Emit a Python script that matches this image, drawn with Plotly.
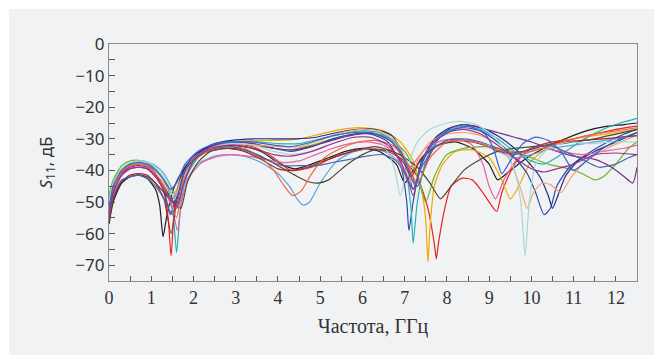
import plotly.graph_objects as go

# Curves: frequency (GHz) and S11 (dB)
c1_x = [0,0.1,0.3,0.5,0.7,0.9,1.1,1.2,1.28,1.36,1.5,1.7,2.0,2.4,2.8,3.2,3.6,4.0,4.4,4.8,5.2,5.6,6.0,6.4,6.8,7.0,7.2,7.5,7.8,8.2,8.6,9.0,9.2,9.5,9.9,10.3,10.8,11.3,11.8,12.2,12.5]
c1_y = [-57,-50,-44,-42,-41.5,-42.5,-46,-51,-61,-55,-47,-41,-36,-33,-32,-32.5,-34,-37.5,-39.5,-38,-36,-34,-33,-34,-38,-44,-40,-35,-32,-31,-33,-38,-43,-40,-36,-33,-30,-27.5,-26,-25.5,-25]

c2_x = [0,0.1,0.3,0.5,0.7,0.9,1.1,1.3,1.4,1.47,1.55,1.7,2.0,2.4,2.9,3.4,3.9,4.3,4.8,5.3,5.8,6.2,6.6,7.0,7.3,7.55,7.7,7.75,7.8,7.95,8.1,8.35,8.6,8.85,9.05,9.18,9.3,9.6,10.0,10.5,11.0,11.5,12.0,12.5]
c2_y = [-55,-47,-41,-38.5,-38,-38.5,-41,-47,-55,-67,-52,-43,-36,-32.5,-31.5,-32.5,-36,-40,-39,-36,-34,-33,-34,-37,-42,-52,-63,-68,-63,-52,-45,-42.5,-43,-47,-51,-53,-47,-38,-33,-31,-30,-28.5,-27,-26]

c3_x = [0,0.1,0.3,0.5,0.7,0.9,1.1,1.3,1.55,1.7,2.0,2.5,3.0,3.5,4.0,4.5,5.0,5.5,6.0,6.5,6.9,7.2,7.4,7.5,7.55,7.6,7.7,7.9,8.2,8.6,9.0,9.3,9.5,9.7,10.0,10.5,11.0,11.5,12.0,12.5]
c3_y = [-50,-44,-39.5,-38,-37.5,-38,-40,-43,-47,-43,-36,-32,-31,-30.5,-30.5,-30,-28.5,-27,-26.5,-27.5,-31,-37,-46,-56,-69,-58,-45,-38,-34,-33.5,-36,-43,-49,-45,-37,-32,-30,-29,-28,-27]

c4_x = [0,0.1,0.3,0.5,0.7,0.9,1.1,1.3,1.5,1.65,1.8,2.1,2.5,2.9,3.4,3.9,4.3,4.8,5.3,5.8,6.2,6.6,7.0,7.3,7.5,7.7,8.0,8.4,8.9,9.4,9.9,10.4,10.9,11.2,11.5,11.7,12.0,12.3,12.5]
c4_y = [-48,-43,-38.5,-37,-36.8,-37.5,-39.5,-43,-48,-50,-42,-36,-32.5,-31.5,-32,-33,-33.5,-32,-30,-28.5,-28,-29.5,-34,-42,-50,-42,-35,-33,-32.5,-33.5,-35.5,-38,-39.5,-41,-43,-42,-38,-33,-31]

c5_x = [0,0.1,0.3,0.5,0.7,0.9,1.1,1.3,1.45,1.55,1.7,2.0,2.5,2.9,3.4,3.9,4.3,4.8,5.3,5.8,6.2,6.6,6.9,7.05,7.1,7.2,7.4,7.7,8.0,8.4,8.8,9.2,9.6,9.9,10.1,10.3,10.45,10.6,10.9,11.3,11.8,12.2,12.5]
c5_y = [-52,-46,-40.5,-38.5,-38,-38.5,-41,-46,-54,-50,-42,-35.5,-32,-31,-31.5,-33,-34,-32.5,-30,-28.5,-28.5,-31,-38,-50,-59,-50,-37,-30.5,-27.5,-26.5,-27.5,-31,-36,-41,-47,-54,-52,-45,-39,-35,-31,-28.5,-27]

c6_x = [0,0.1,0.3,0.5,0.7,0.9,1.1,1.3,1.5,1.6,1.8,2.1,2.5,2.9,3.4,3.9,4.4,4.9,5.4,5.9,6.3,6.7,7.0,7.2,7.4,7.7,8.0,8.4,8.8,9.2,9.6,9.9,10.2,10.4,10.5,10.6,10.8,11.1,11.5,12.0,12.5]
c6_y = [-54,-47,-41.5,-39.5,-39,-39.5,-42,-46,-49,-47,-39,-34.5,-31.5,-30.5,-30,-30,-30,-29.5,-28,-27,-27,-29,-36,-46,-38,-30,-27,-25.5,-26.5,-29,-33,-37,-42,-48,-52,-49,-42,-37,-34,-31,-28]

c7_x = [0,0.1,0.3,0.5,0.7,0.9,1.1,1.3,1.55,1.7,2.0,2.5,2.9,3.4,3.9,4.4,4.9,5.4,5.9,6.3,6.7,7.0,7.3,7.5,7.8,8.1,8.4,8.8,9.2,9.6,10.0,10.5,11.0,11.5,11.9,12.2,12.4,12.5]
c7_y = [-53,-46,-41,-39,-38.5,-39,-41.5,-45,-50,-44,-36,-32,-31,-31.5,-33,-33.5,-32,-30,-28.5,-28.5,-31,-37,-45,-38,-30,-26.5,-25.5,-26.5,-28,-29.5,-31,-33.5,-35.5,-36.5,-39,-42,-44,-39]

c8_x = [0,0.1,0.3,0.5,0.75,1.0,1.2,1.4,1.52,1.6,1.68,1.8,2.1,2.5,3.0,3.5,4.0,4.5,5.0,5.5,6.0,6.4,6.8,7.0,7.15,7.2,7.3,7.5,7.8,8.1,8.4,8.8,9.2,9.6,10.0,10.3,10.7,11.2,11.7,12.1,12.5]
c8_y = [-50,-44,-39.5,-38,-37.5,-38.5,-41,-46,-54,-66,-54,-43,-36,-32.5,-31,-31,-31.5,-31.5,-30,-28.5,-27.5,-28,-31.5,-38,-52,-63,-50,-37,-29.5,-27,-26,-27,-30,-34,-37,-38,-35,-30.5,-27,-25,-23.5]

c9_x = [0,0.1,0.3,0.5,0.8,1.1,1.3,1.5,1.65,1.8,2.1,2.5,2.8,3.2,3.6,4.0,4.3,4.45,4.6,4.75,5.0,5.4,5.8,6.2,6.6,6.9,7.1,7.3,7.6,8.0,8.4,8.8,9.2,9.6,10.0,10.5,11.0,11.5,12.0,12.5]
c9_y = [-52,-46,-40.5,-38,-37,-38.5,-41,-46,-51,-44,-38,-35.5,-35,-35.5,-37.5,-41,-45.5,-49,-51,-50,-44,-37,-34,-33,-34.5,-38,-44,-38,-33,-31,-30.5,-31.5,-34,-36,-35,-33,-32,-31,-30,-29]

c10_x = [0,0.1,0.3,0.5,0.7,0.9,1.1,1.3,1.5,1.62,1.72,1.9,2.2,2.6,2.9,3.3,3.7,4.1,4.5,4.9,5.3,5.7,6.1,6.5,6.8,7.0,7.2,7.5,7.9,8.3,8.6,8.85,9.0,9.15,9.35,9.7,10.2,10.7,11.2,11.7,12.2,12.5]
c10_y = [-54,-47,-41.5,-39.5,-39,-39.5,-42,-46,-52,-59,-50,-42,-37.5,-35.5,-35,-35.5,-36.5,-37.5,-37,-35,-33,-31.5,-31,-32,-35,-41,-38,-33,-30.5,-30,-32,-38,-45,-49,-43,-36,-33,-34,-35,-34,-33,-32]

c11_x = [0,0.1,0.3,0.5,0.7,0.9,1.1,1.3,1.5,1.7,1.85,2.1,2.4,2.8,3.2,3.6,4.0,4.4,4.7,4.95,5.2,5.6,6.0,6.3,6.7,7.0,7.3,7.6,7.85,8.1,8.4,8.8,9.2,9.6,10.0,10.5,11.0,11.5,12.0,12.5]
c11_y = [-56,-49,-43.5,-42,-41.5,-42,-44,-47,-50,-52,-44,-37.5,-34,-33,-33.5,-35.5,-38.5,-41.5,-43.5,-44,-43,-38.5,-35,-33.5,-34,-36,-39,-44,-49,-45,-40,-36.5,-34,-33,-32.5,-32,-31,-30,-28.5,-27]

c12_x = [0,0.1,0.3,0.5,0.7,0.9,1.1,1.3,1.55,1.7,2.0,2.5,3.0,3.5,4.0,4.5,5.0,5.5,6.0,6.4,6.8,7.0,7.15,7.3,7.6,8.0,8.4,8.8,9.2,9.5,9.75,9.9,10.05,10.25,10.45,10.7,10.95,11.3,11.8,12.2,12.5]
c12_y = [-51,-45,-40,-38.5,-38,-38.5,-41,-44,-48,-43,-36,-32.5,-31.5,-32,-32.5,-32.5,-30.5,-28,-27,-27.5,-31,-36,-44,-37,-31,-28.5,-28,-29,-32,-37,-46,-52,-47,-44,-44.5,-47,-42,-37,-33,-30.5,-29]

c13_x = [0,0.1,0.3,0.5,0.75,1.0,1.2,1.4,1.55,1.7,2.0,2.4,2.9,3.4,3.9,4.3,4.8,5.3,5.8,6.2,6.5,6.75,6.9,7.05,7.3,7.6,8.0,8.3,8.7,9.1,9.4,9.6,9.75,9.85,9.95,10.1,10.4,10.9,11.4,11.9,12.5]
c13_y = [-50,-44,-39.5,-37.5,-37,-38,-40.5,-44,-49,-44,-37,-33,-31.5,-32,-34,-35,-34,-31.5,-29.5,-29.5,-32,-39,-48,-40,-31,-27,-25,-24.5,-25.5,-29,-34,-40,-50,-67,-50,-38,-33,-31,-31.5,-31,-31]

c14_x = [0,0.1,0.3,0.5,0.7,0.9,1.1,1.3,1.47,1.6,1.8,2.1,2.5,2.8,3.2,3.6,4.0,4.3,4.7,5.1,5.5,5.9,6.3,6.7,7.0,7.15,7.4,7.8,8.2,8.6,9.0,9.4,9.8,10.2,10.7,11.2,11.7,12.1,12.5]
c14_y = [-56,-49,-43.5,-41.5,-41,-41.5,-44,-49,-60,-50,-40,-35.5,-33.5,-33,-34,-36.5,-39.5,-40,-39,-37,-35,-33.5,-32.5,-34,-38,-42,-36,-32,-30.5,-31,-32.5,-34.5,-34,-32.5,-31,-30.5,-30,-29.5,-29]

c15_x = [0,0.1,0.3,0.5,0.7,0.9,1.1,1.3,1.5,1.6,1.75,2.0,2.4,2.8,3.2,3.6,3.9,4.15,4.35,4.55,4.8,5.1,5.5,5.9,6.3,6.7,7.0,7.3,7.6,8.0,8.4,8.8,9.2,9.6,10.0,10.5,11.0,11.5,12.0,12.5]
c15_y = [-53,-46,-40.5,-38.5,-38,-38.5,-41,-45,-52,-55,-44,-37,-33.5,-32.5,-33,-36,-40,-45,-48,-46.5,-41,-36,-33,-31,-30.5,-32,-36,-44,-36,-31,-30.5,-31.5,-33.5,-34.5,-34,-32,-30,-28.5,-27.5,-26.5]

c16_x = [0,0.1,0.3,0.5,0.7,0.9,1.1,1.3,1.5,1.62,1.8,2.1,2.5,2.9,3.3,3.7,4.1,4.5,4.9,5.3,5.7,6.1,6.5,6.8,7.0,7.2,7.4,7.7,8.0,8.4,8.8,9.2,9.6,10.0,10.4,10.8,11.2,11.6,12.0,12.3,12.5]
c16_y = [-55,-48,-43,-42,-41.5,-42.5,-45,-49,-54,-50,-40,-35,-33,-32.5,-34,-36.5,-38.5,-38.5,-38.5,-37.5,-36.5,-35.5,-35,-37,-41,-46,-39,-33,-30.5,-30,-31,-33,-35,-33,-32,-34,-36.5,-39,-38,-36,-35]

c17_x = [0,0.1,0.3,0.5,0.7,0.9,1.1,1.3,1.5,1.6,1.75,2.0,2.4,2.9,3.4,3.9,4.3,4.8,5.3,5.8,6.2,6.6,6.9,7.1,7.2,7.35,7.6,8.0,8.4,8.8,9.2,9.6,10.0,10.3,10.6,11.0,11.5,12.0,12.5]
c17_y = [-54,-47,-41.5,-39.5,-39,-39.5,-42,-46,-50,-52,-45,-37,-33,-32,-33,-35,-35.5,-34,-31.5,-29.5,-29.5,-32,-37,-44,-48,-40,-32,-28,-27,-28.5,-32,-36,-39.5,-40.5,-39.5,-38,-35,-34.5,-35]

c18_x = [0,0.1,0.3,0.5,0.7,0.9,1.1,1.3,1.45,1.6,1.8,2.1,2.5,2.9,3.4,3.9,4.3,4.8,5.3,5.8,6.2,6.6,6.9,7.1,7.25,7.4,7.7,8.1,8.5,8.9,9.1,9.3,9.5,9.8,10.1,10.4,10.7,11.0,11.3,11.7,12.1,12.5]
c18_y = [-52,-45,-40,-38,-37.5,-38,-40,-43,-46,-44,-38,-34,-31.5,-31,-31,-32,-32.5,-31,-29,-28,-28,-30,-34,-40,-45,-38,-31,-27.5,-26,-28.5,-33,-41,-37,-31.5,-29.5,-30.5,-34,-40,-37,-33,-30,-28]

curves = [
    (c1_x, c1_y, "#1e1e1e"),
    (c2_x, c2_y, "#e3261c"),
    (c3_x, c3_y, "#f2a900"),
    (c4_x, c4_y, "#6cb42c"),
    (c5_x, c5_y, "#2c48a8"),
    (c6_x, c6_y, "#1f2a85"),
    (c7_x, c7_y, "#7a2a8c"),
    (c8_x, c8_y, "#27b0b8"),
    (c9_x, c9_y, "#5ba2e2"),
    (c10_x, c10_y, "#e8619c"),
    (c11_x, c11_y, "#4c4c2c"),
    (c12_x, c12_y, "#f4a46c"),
    (c13_x, c13_y, "#a6d8d4"),
    (c14_x, c14_y, "#a3262a"),
    (c15_x, c15_y, "#f0663a"),
    (c16_x, c16_y, "#4a68a8"),
    (c17_x, c17_y, "#a0308c"),
    (c18_x, c18_y, "#3a66cc"),
]

x_ticks = list(range(0, 13))
y_ticks = list(range(-70, 1, 10))

fig = go.Figure()
for xs, ys, col in curves:
    fig.add_trace(go.Scatter(x=xs, y=ys, mode="lines",
                             line=dict(color=col, width=1.2, shape="spline", smoothing=0.6),
                             hoverinfo="skip", showlegend=False))

L, R, T, B = 109, 17, 44, 75
W, H = 654, 356
pw, ph = W - L - R, H - T - B
fig.add_shape(type="rect", xref="paper", yref="paper",
              x0=(9 - L) / pw, x1=(W - L) / pw,
              y0=(H - B - 355) / ph, y1=(H - B - 9) / ph,
              fillcolor="#f1f2f4", line=dict(width=0), layer="below")

fig.update_layout(
    width=W, height=H,
    margin=dict(l=L, r=R, t=T, b=B),
    paper_bgcolor="white",
    plot_bgcolor="rgba(0,0,0,0)",
    showlegend=False,
)
fig.update_xaxes(
    range=[0, 12.5], tickvals=x_ticks, ticks="inside", ticklen=5, tickcolor="#555",
    minor=dict(dtick=0.5, tick0=0, ticks="inside", ticklen=5, tickcolor="#555", showgrid=False),
    showgrid=False, zeroline=False, showline=True, linecolor="#8a8a8a", linewidth=1.2, mirror=True,
    tickfont=dict(family="Liberation Serif", size=18, color="#333"),
    title=dict(text="Частота, ГГц", font=dict(family="Liberation Serif", size=20, color="#333"), standoff=12),
)
fig.update_yaxes(
    range=[-75, 0], tickvals=y_ticks, ticks="inside", ticklen=6, tickcolor="#555",
    minor=dict(dtick=5, tick0=0, ticks="inside", ticklen=6, tickcolor="#555", showgrid=False),
    showgrid=False, zeroline=False, showline=True, linecolor="#8a8a8a", linewidth=1.2, mirror=True,
    tickfont=dict(family="Noto Sans", size=17, color="#333"),
    title=dict(text="<i>S</i><sub>11</sub>, дБ", font=dict(family="Noto Sans", size=17, color="#333"), standoff=18),
)

fig.write_html("out.html")
